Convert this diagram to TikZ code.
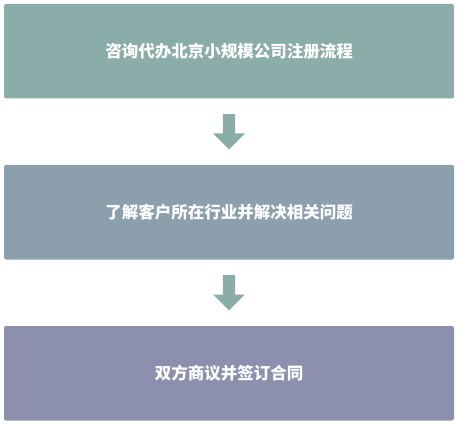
\documentclass[tikz,border=0pt]{standalone}
\usepackage{fontspec}
\newfontfamily\cjk{Noto Sans CJK SC}
\usetikzlibrary{calc}
\definecolor{cA}{HTML}{8BADA9}
\definecolor{cB}{HTML}{8C9FAD}
\definecolor{cC}{HTML}{8C8FAD}
\tikzset{
  stepbox/.style={rectangle, rounded corners=2pt, minimum width=450pt, minimum height=94.5pt, inner sep=0pt, text=white, font=\cjk\bfseries\fontsize{16.5}{20}\selectfont},
  flowarrow/.style={fill=cA, draw=none}
}
\newcommand{\downarrowshape}[2]{%
  \fill[flowarrow] ($(#1.south)+(-6.2pt,-15.5pt)$) -- ($(#1.south)+(6.2pt,-15.5pt)$)
    -- ($(#1.south)+(6.2pt,-34.8pt)$) -- ($(#1.south)+(16pt,-34.8pt)$)
    -- ($(#2.north)+(0pt,15.5pt)$) -- ($(#1.south)+(-16pt,-34.8pt)$)
    -- ($(#1.south)+(-6.2pt,-34.8pt)$) -- cycle;}
\begin{document}
\begin{tikzpicture}[x=1pt,y=1pt]
\useasboundingbox (0,0) rectangle (461,-425);
\node[stepbox, fill=cA] (b1) at (229,-51.25) {咨询代办北京小规模公司注册流程};
\node[stepbox, fill=cB] (b2) at (229,-212.25) {了解客户所在行业并解决相关问题};
\node[stepbox, fill=cC] (b3) at (229,-373.25) {双方商议并签订合同};
\downarrowshape{b1}{b2}
\downarrowshape{b2}{b3}
\end{tikzpicture}
\end{document}
